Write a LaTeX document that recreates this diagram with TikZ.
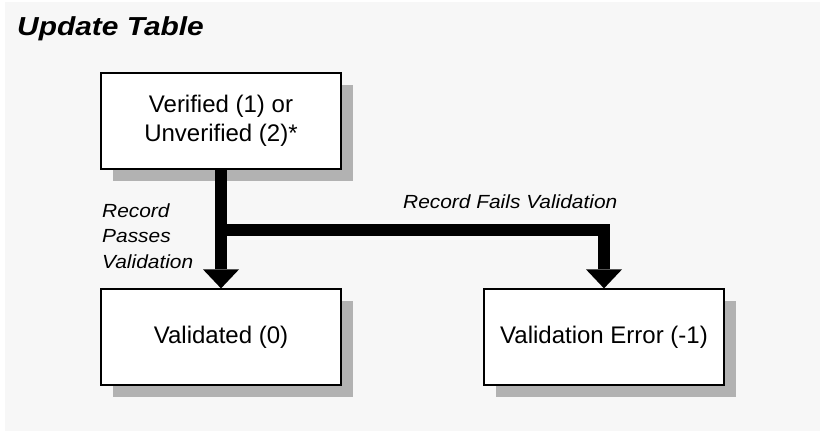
\documentclass[tikz,border=0pt]{standalone}
\usepackage{fontspec}
\setmainfont{Liberation Sans}
\newfontfamily\lblfont[FakeStretch=1.1]{Liberation Sans}
\newfontfamily\ttlfont[FakeStretch=1.15]{Liberation Sans}
\usetikzlibrary{shadows,arrows.meta}
\definecolor{pagebg}{HTML}{F7F7F7}
\definecolor{shadowgray}{HTML}{B2B2B2}

\begin{document}
\begin{tikzpicture}[x=1pt,y=-1pt,
  state/.style={draw=black, line width=1.2pt, fill=white,
    minimum width=240pt, minimum height=96pt, inner sep=0pt, align=center,
    font=\fontsize{24}{29.5}\selectfont,
    general shadow={fill=shadowgray, shadow xshift=12pt, shadow yshift=-12pt}},
  flow/.style={line width=12pt, line join=miter,
    -{Triangle[width=36pt,length=19pt,line width=0pt]}},
  lbl/.style={font=\lblfont\itshape\fontsize{19}{25.5}\selectfont,
    inner sep=0pt, align=left}]
  % canvas
  \fill[white] (0,0) rectangle (820,431);
  \fill[pagebg] (5,2) rectangle (820,431);
  \useasboundingbox (0,0) rectangle (820,431);

  % heading
  \node[font=\ttlfont\bfseries\itshape\fontsize{26}{30}\selectfont,
        anchor=base west, inner sep=0pt] (title) at (17,35) {Update Table};

  % record states
  \node[state] (top) at (221,121) {Verified (1) or\\Unverified (2)*};
  \node[state] (val) at (221,337) {Validated (0)};
  \node[state] (err) at (604,337) {Validation Error (-1)};

  % transitions
  \coordinate (fork) at (221,229.5);
  \draw[flow] (top.south) -- (val.north);
  \draw[flow] (fork) -| (err.north);

  % transition labels (base anchor sits on the last line)
  \node[lbl, anchor=base west] (passes) at (102,268) {Record\\Passes\\Validation};
  \node[lbl, anchor=base west] (fails) at (403,208) {Record Fails Validation};
\end{tikzpicture}
\end{document}
